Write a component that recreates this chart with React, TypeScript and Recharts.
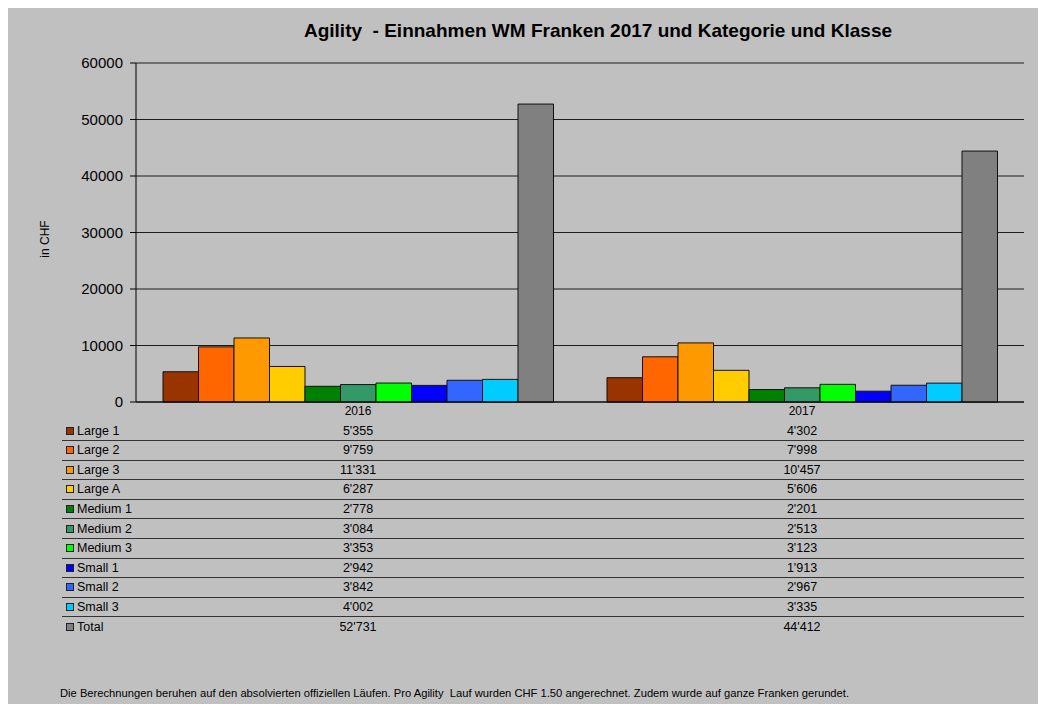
import React from 'react';
import { BarChart, Bar, XAxis, YAxis, CartesianGrid } from 'recharts';

const years = ['2016', '2017'];
const seriesNames = ['Large 1', 'Large 2', 'Large 3', 'Large A', 'Medium 1', 'Medium 2', 'Medium 3', 'Small 1', 'Small 2', 'Small 3', 'Total'];
const seriesColors = ['#993300', '#FF6600', '#FF9900', '#FFCC00', '#008000', '#339966', '#00FF00', '#0000FF', '#3366FF', '#00CCFF', '#808080'];
const large1 = [5355, 4302];
const large2 = [9759, 7998];
const large3 = [11331, 10457];
const largeA = [6287, 5606];
const medium1 = [2778, 2201];
const medium2 = [3084, 2513];
const medium3 = [3353, 3123];
const small1 = [2942, 1913];
const small2 = [3842, 2967];
const small3 = [4002, 3335];
const total = [52731, 44412];
const yTicks = [0, 10000, 20000, 30000, 40000, 50000, 60000];

const seriesValues = [large1, large2, large3, largeA, medium1, medium2, medium3, small1, small2, small3, total];

const data = years.map((year, i) => {
  const row: Record<string, string | number> = { year };
  seriesNames.forEach((name, s) => {
    row[name] = seriesValues[s][i];
  });
  return row;
});

const fmt = (v: number) => String(v).replace(/\B(?=(\d{3})+(?!\d))/g, "'");

// layout (container coordinates)
const W = 1038;
const H = 696;
const PLOT_LEFT = 128;
const PLOT_RIGHT = 22;
const TABLE_TOP = 413.5;
const ROW_H = 19.6;
const font = 'Arial, "Liberation Sans", sans-serif';

const App: React.FC = () => {
  const plotW = W - PLOT_LEFT - PLOT_RIGHT;
  const band = plotW / years.length;

  return (
    <div style={{ position: 'relative', width: W, height: H, background: '#C0C0C0', fontFamily: font }}>
      <div style={{ position: 'absolute', left: 0, width: 1180, top: 12, textAlign: 'center', fontSize: 19, fontWeight: 'bold', color: '#000' }}>
        Agility&nbsp; - Einnahmen WM Franken 2017 und Kategorie und Klasse
      </div>
      <div style={{ position: 'absolute', left: 37 - 40, top: 232 - 8, width: 80, textAlign: 'center', fontSize: 12, transform: 'rotate(-90deg)', color: '#000' }}>
        in CHF
      </div>
      <BarChart
        width={W}
        height={H}
        data={data}
        margin={{ top: 55, right: PLOT_RIGHT, left: 0, bottom: 282 }}
        barSize={35.5}
        barGap={0}
      >
        <CartesianGrid horizontal vertical={false} stroke="#000" strokeOpacity={0.85} />
        <XAxis
          dataKey="year"
          height={20}
          tickLine={false}
          tickSize={2}
          tickMargin={2}
          axisLine={{ stroke: '#000' }}
          tick={{ fill: '#000', fontSize: 12, fontFamily: font }}
        />
        <YAxis
          width={PLOT_LEFT}
          domain={[0, 60000]}
          ticks={yTicks}
          interval={0}
          tickSize={6}
          tickMargin={7}
          axisLine={{ stroke: '#000' }}
          tickLine={{ stroke: '#000' }}
          tick={{ fill: '#000', fontSize: 15, fontFamily: font }}
        />
        {seriesNames.map((name, s) => (
          <Bar key={name} dataKey={name} fill={seriesColors[s]} stroke="#111" strokeWidth={1} isAnimationActive={false} />
        ))}
      </BarChart>
      {seriesNames.map((name, s) => {
        const top = TABLE_TOP + s * ROW_H;
        return (
          <div
            key={name}
            style={{
              position: 'absolute',
              left: 54,
              width: W - PLOT_RIGHT - 54,
              top,
              height: ROW_H,
              borderBottom: s < seriesNames.length - 1 ? '1.5px solid #333' : 'none',
              boxSizing: 'border-box',
              fontSize: 12.5,
              color: '#000',
            }}
          >
            <span style={{ position: 'absolute', left: 4, top: 5, width: 6, height: 6, background: seriesColors[s], border: '1px solid #222' }} />
            <span style={{ position: 'absolute', left: 15, top: 2 }}>{name}</span>
            {years.map((y, i) => (
              <span
                key={y}
                style={{ position: 'absolute', left: PLOT_LEFT - 54 + band * i, width: band, top: 2, textAlign: 'center' }}
              >
                {fmt(seriesValues[s][i])}
              </span>
            ))}
          </div>
        );
      })}
      <div style={{ position: 'absolute', left: 52, top: 679, fontSize: 11.2, color: '#000', whiteSpace: 'nowrap' }}>
        Die Berechnungen beruhen auf den absolvierten offiziellen Läufen. Pro Agility&nbsp; Lauf wurden CHF 1.50 angerechnet. Zudem wurde auf ganze Franken gerundet.
      </div>
    </div>
  );
};

export default App;
